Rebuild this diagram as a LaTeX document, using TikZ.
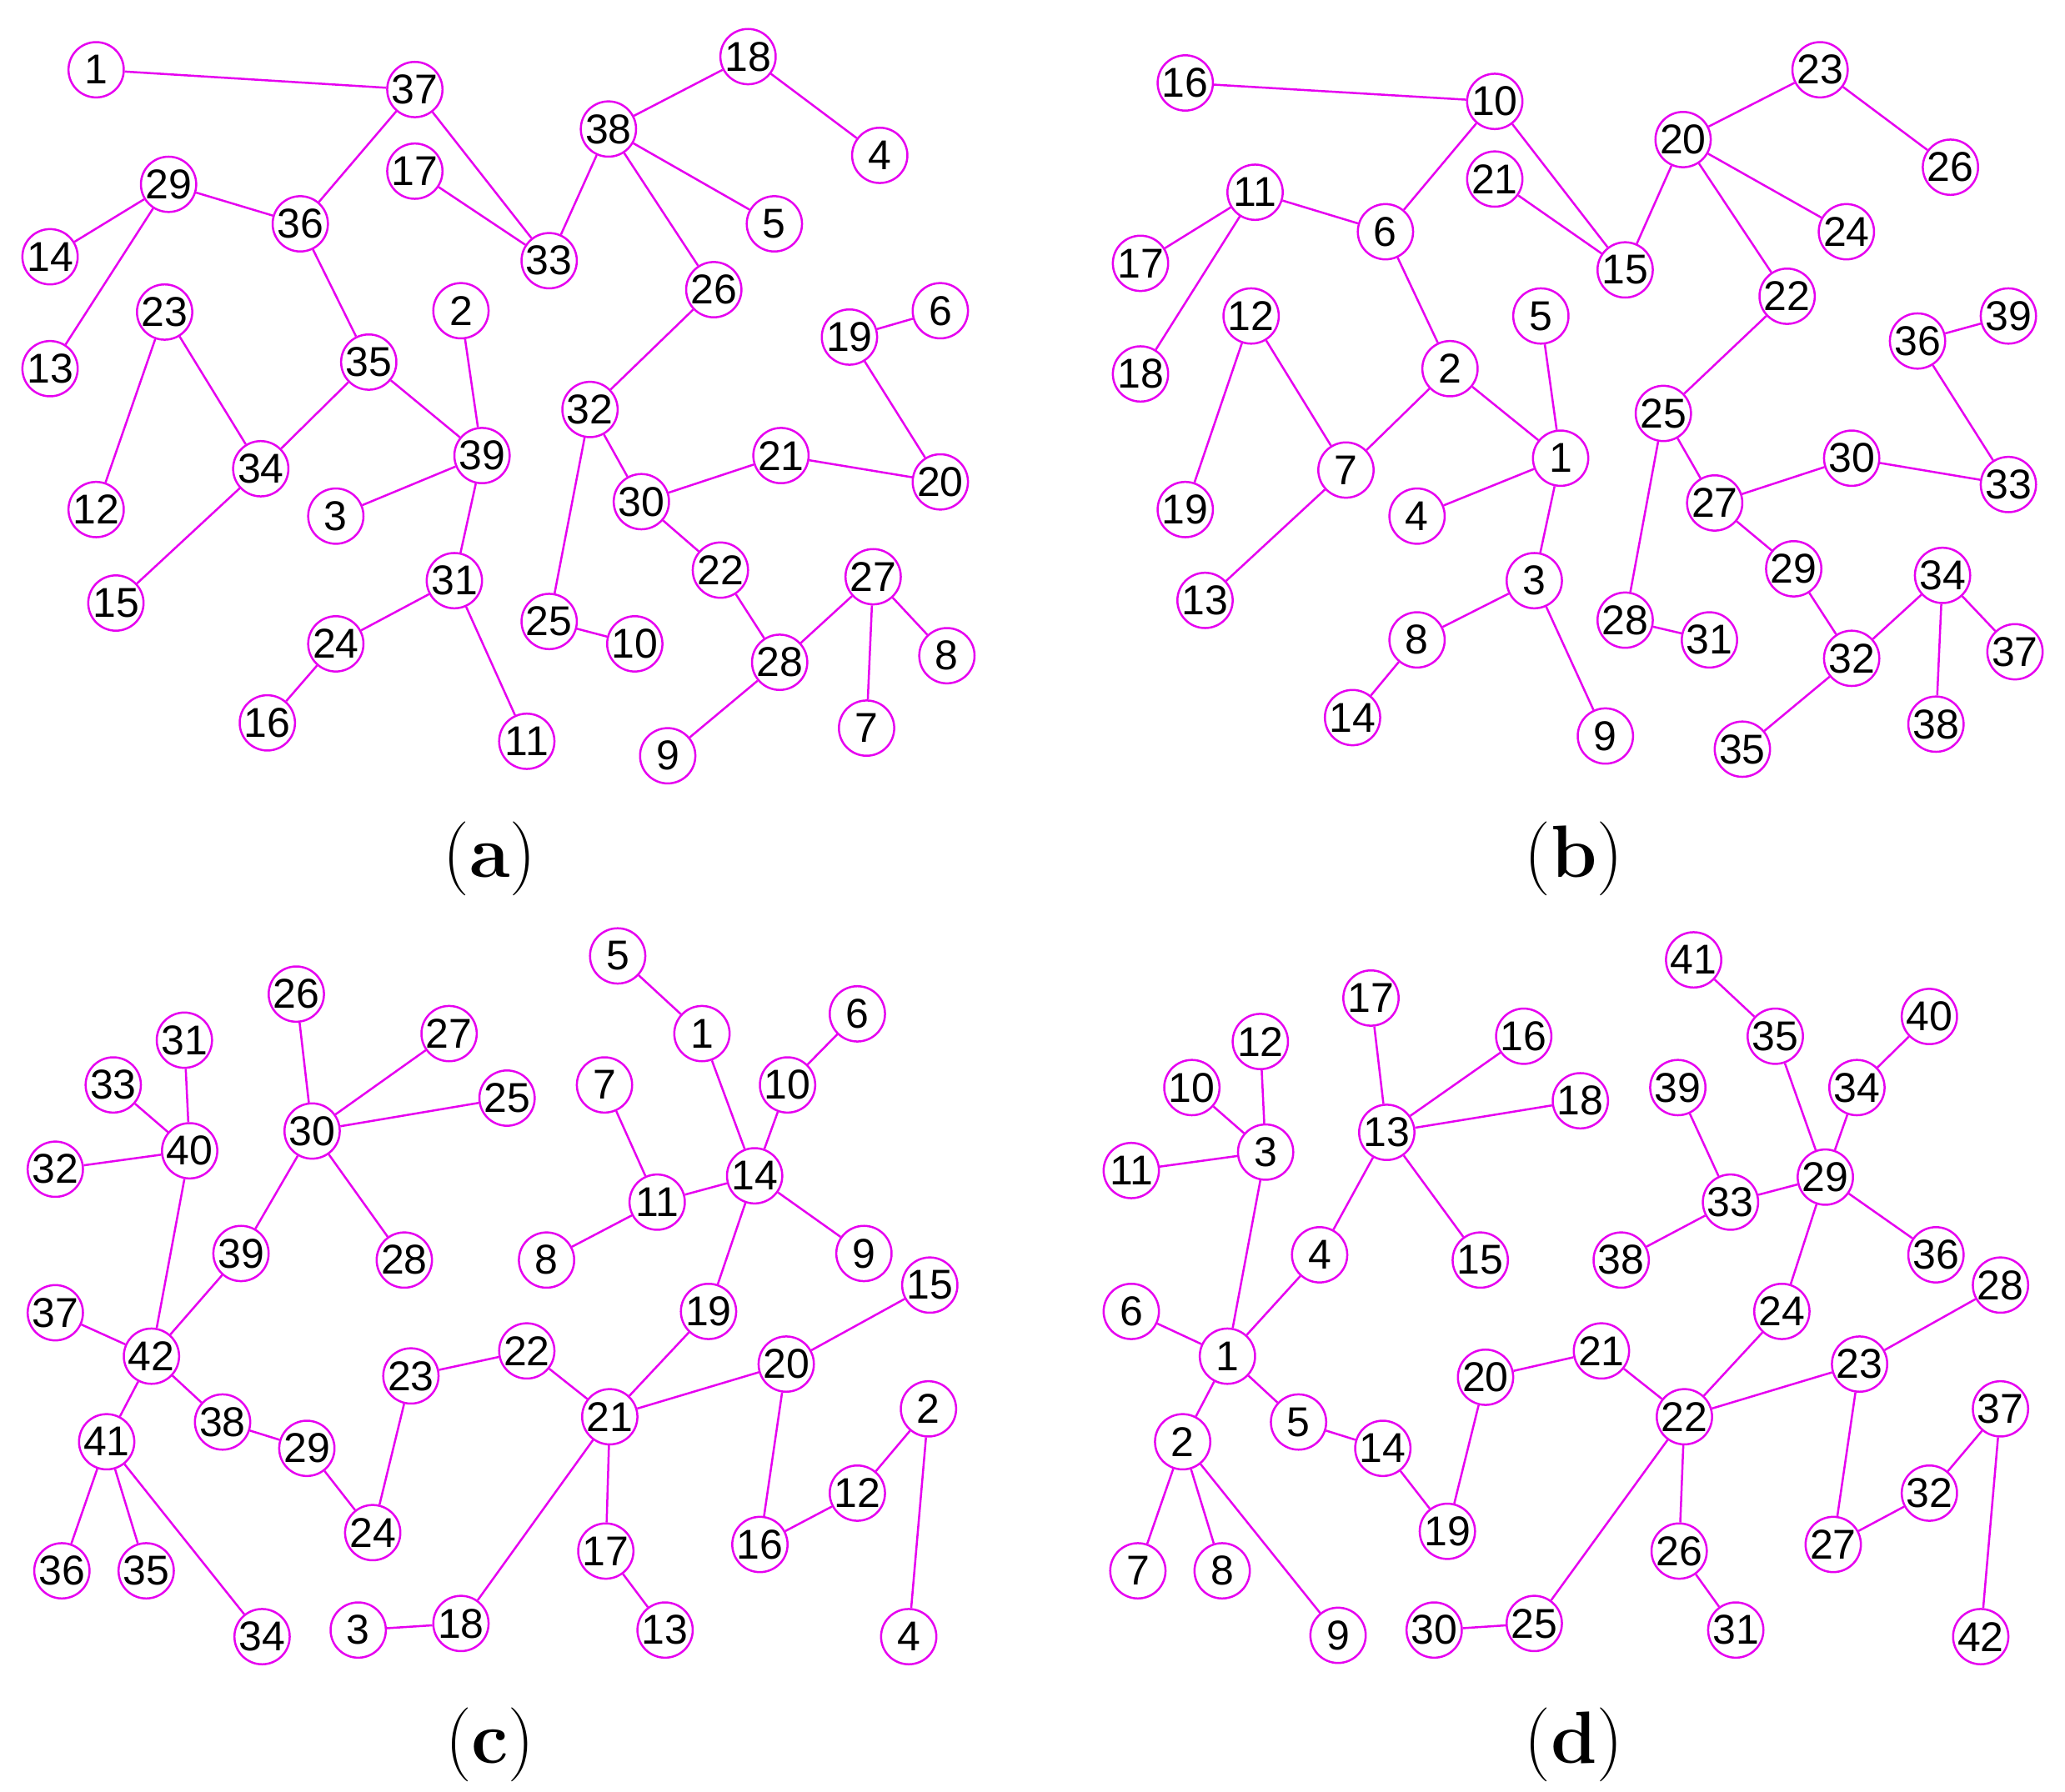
\documentclass[tikz,border=0pt]{standalone}
\usepackage{fontspec}
\newfontfamily\nodefont{Liberation Sans}
\definecolor{mag}{RGB}{230,0,240}
\begin{document}
\begin{tikzpicture}[x=0.02cm,y=-0.02cm,
  v/.style={circle,draw=mag,fill=white,line width=0.9pt,minimum size=0.84cm,inner sep=0pt,font=\nodefont\fontsize{18}{18}\selectfont},
  e/.style={mag,line width=0.9pt},
  capstyle/.style={font=\fontsize{32}{36}\selectfont}]
\useasboundingbox (0,0) rectangle (1568,1361);
% panel a
\foreach \n/\x/\y in {1/73/53,37/315/68,29/128/140,36/228/170,17/315/130,33/417/198,38/462/98,18/568/43,4/668/118,5/588/170,26/542/220,14/38/195,13/38/280,23/125/237,12/73/387,34/198/356,15/88/458,35/280/275,2/350/236,39/366/346,3/255/392,31/345/441,24/255/489,16/203/549,11/400/563,32/448/311,30/487/381,25/417/472,10/482/489,21/593/346,20/714/366,19/645/256,6/714/236,22/547/433,28/592/503,9/507/574,27/663/438,7/658/553,8/719/498}
  \node[v] (a\n) at (\x,\y) {\n};
\foreach \u/\w in {1/37,37/36,37/33,17/33,33/38,38/18,18/4,38/5,38/26,29/36,29/14,29/13,36/35,23/12,23/34,34/35,34/15,35/39,2/39,3/39,39/31,31/24,24/16,31/11,26/32,32/30,32/25,25/10,30/21,21/20,20/19,19/6,30/22,22/28,28/9,28/27,27/7,27/8}
  \draw[e] (a\u) -- (a\w);
% panel b
\foreach \n/\x/\y in {16/900/63,10/1135/77,11/953/146,6/1052/176,21/1135/136,15/1234/205,20/1278/106,23/1382/53,26/1481/127,24/1402/176,22/1357/225,17/866/200,18/866/284,12/950/240,19/900/387,7/1022/357,13/915/456,2/1101/280,5/1170/240,1/1185/348,4/1076/392,3/1165/441,8/1076/486,14/1027/545,9/1219/559,25/1263/314,27/1302/382,30/1406/348,33/1525/368,36/1456/259,39/1525/240,29/1362/432,28/1234/471,31/1298/486,32/1406/500,34/1475/437,37/1530/495,38/1470/550,35/1323/569}
  \node[v] (b\n) at (\x,\y) {\n};
\foreach \u/\w in {16/10,10/6,10/15,21/15,15/20,20/23,23/26,20/24,20/22,22/25,25/27,25/28,28/31,27/30,30/33,33/36,36/39,27/29,29/32,32/34,34/37,34/38,32/35,11/6,11/17,11/18,6/2,2/7,2/1,12/7,12/19,7/13,5/1,4/1,1/3,3/8,8/14,3/9}
  \draw[e] (b\u) -- (b\w);
% panel c
\foreach \n/\x/\y in {5/469/726,1/533/785,6/651/770,10/598/824,7/459/824,14/573/893,11/499/913,8/415/957,9/656/952,19/538/996,15/706/976,20/597/1036,21/463/1076,22/400/1026,23/312/1045,24/283/1164,17/460/1178,13/505/1238,18/350/1233,3/272/1238,16/577/1173,12/651/1134,2/705/1070,4/690/1243,26/225/755,31/140/790,27/341/785,25/385/834,33/86/824,30/237/859,40/144/874,32/42/888,28/307/957,39/183/952,37/42/997,42/115/1030,38/169/1080,29/233/1100,41/81/1095,36/47/1193,35/111/1193,34/199/1243}
  \node[v] (c\n) at (\x,\y) {\n};
\foreach \u/\w in {5/1,1/14,6/10,10/14,7/11,11/14,8/11,14/9,14/19,19/21,21/22,22/23,23/24,21/20,20/15,20/16,16/12,12/2,2/4,21/17,17/13,21/18,18/3,26/30,30/27,30/25,30/28,30/39,39/42,31/40,33/40,32/40,40/42,37/42,42/38,38/29,29/24,42/41,41/36,41/35,41/34}
  \draw[e] (c\u) -- (c\w);
% panel d
\foreach \n/\x/\y in {41/1286/729,35/1348/787,40/1465/772,34/1410/826,39/1274/826,29/1386/894,33/1314/913,38/1231/957,36/1470/953,28/1519/976,24/1353/996,23/1412/1036,22/1279/1076,21/1216/1026,20/1128/1046,19/1099/1163,26/1275/1178,31/1318/1238,25/1165/1233,30/1089/1238,27/1392/1173,32/1465/1134,37/1519/1070,42/1504/1243,17/1041/758,16/1157/787,12/957/791,18/1200/836,10/905/826,13/1053/860,3/961/875,11/859/889,4/1002/953,15/1124/957,6/859/996,1/932/1030,5/986/1080,14/1050/1100,2/898/1095,7/864/1193,8/928/1193,9/1016/1242}
  \node[v] (d\n) at (\x,\y) {\n};
\foreach \u/\w in {41/35,35/29,40/34,34/29,39/33,33/29,38/33,29/36,29/24,24/22,22/21,21/20,20/19,19/14,14/5,5/1,22/23,23/28,23/27,27/32,32/37,37/42,22/26,26/31,22/25,25/30,17/13,16/13,18/13,13/15,13/4,4/1,12/3,10/3,11/3,3/1,6/1,1/2,2/7,2/8,2/9}
  \draw[e] (d\u) -- (d\w);
% captions
\node[capstyle] (capa) at (372,652) {(\textbf{a})};
\node[capstyle] (capb) at (1195,652) {(\textbf{b})};
\node[capstyle] (capc) at (372,1325) {(\textbf{c})};
\node[capstyle] (capd) at (1195,1325) {(\textbf{d})};
\end{tikzpicture}
\end{document}
